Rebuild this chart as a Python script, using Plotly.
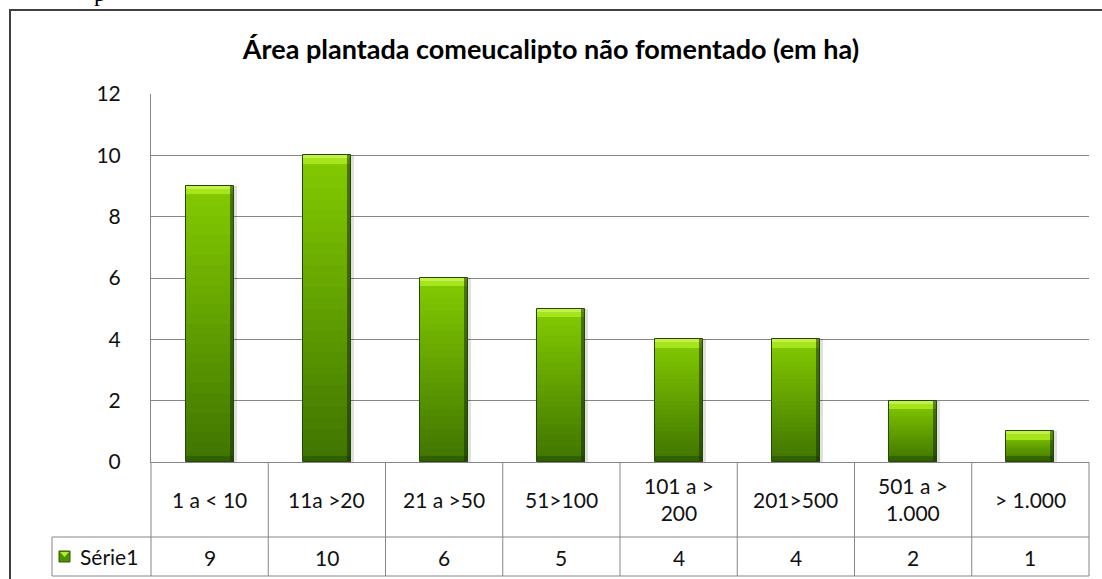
import plotly.graph_objects as go

# ---- data ----
categories = ["1 a < 10", "11a >20", "21 a >50", "51>100",
              "101 a ><br>200", "201>500", "501 a ><br>1.000", "> 1.000"]
values = [9, 10, 6, 5, 4, 4, 2, 1]
series_name = "Série1"
title_text = "Área plantada comeucalipto não fomentado (em ha)"
y_ticks = [0, 2, 4, 6, 8, 10, 12]

# ---- geometry of the figure (pixels) ----
W, H = 1102, 579
M_L, M_R, M_T, M_B = 151, 13, 94, 117
PLOT_W = W - M_L - M_R
PLOT_H = H - M_T - M_B

FONT = "Lato, 'Open Sans', sans-serif"
TXT = 21
GRID = "#868686"
BAR_W = 0.41


def px_x(px):
    """pixel column -> paper x"""
    return (px - M_L) / PLOT_W


def px_y(py):
    """pixel row -> paper y"""
    return (H - M_B - py) / PLOT_H


def lerp_color(c0, c1, t):
    a = [int(c0[i:i + 2], 16) for i in (1, 3, 5)]
    b = [int(c1[i:i + 2], 16) for i in (1, 3, 5)]
    return "rgb({},{},{})".format(*[round(a[k] + (b[k] - a[k]) * t) for k in range(3)])


fig = go.Figure()

# vertical gradient of each bar, built from stacked slices of its own value
N = 28
bottom_col, top_col = "#3f7400", "#84cc00"
for k in range(N):
    fig.add_trace(go.Bar(
        x=categories,
        base=[v * k / N for v in values],
        y=[v / N for v in values],
        width=BAR_W,
        marker=dict(color=lerp_color(bottom_col, top_col, (k + 0.5) / N), line=dict(width=0)),
        hoverinfo="skip", showlegend=False,
    ))

# bevelled top cap
cap = 0.27
fig.add_trace(go.Bar(
    x=categories, base=[v - cap for v in values], y=[cap] * len(values),
    width=BAR_W, marker=dict(color="#a6e41c", line=dict(width=0)),
    hoverinfo="skip", showlegend=False,
))
fig.add_trace(go.Bar(
    x=categories, base=[v - cap * 0.35 for v in values], y=[cap * 0.35] * len(values),
    width=BAR_W, marker=dict(color="#c4f04a", line=dict(width=0)),
    hoverinfo="skip", showlegend=False,
))
# darker bottom bevel
fig.add_trace(go.Bar(
    x=categories, base=[0] * len(values), y=[0.2] * len(values),
    width=BAR_W, marker=dict(color="rgba(30,70,0,0.45)", line=dict(width=0)),
    hoverinfo="skip", showlegend=False,
))
# dark right edge band
fig.add_trace(go.Bar(
    x=categories, y=values, width=0.035, offset=BAR_W / 2 - 0.035,
    marker=dict(color="rgba(20,50,0,0.55)", line=dict(width=0)),
    hoverinfo="skip", showlegend=False,
))
# soft shadow to the right of each bar
fig.add_trace(go.Bar(
    x=categories, y=values, width=0.025, offset=BAR_W / 2,
    marker=dict(color="rgba(0,0,0,0.12)", line=dict(width=0)),
    hoverinfo="skip", showlegend=False,
))
# outline
fig.add_trace(go.Bar(
    x=categories, y=values, width=BAR_W,
    marker=dict(color="rgba(0,0,0,0)", line=dict(color="#24480a", width=1)),
    hoverinfo="skip", showlegend=False, name=series_name,
))

shapes = []
annotations = []

# outer chart frame
shapes.append(dict(type="rect", xref="paper", yref="paper",
                   x0=px_x(10), x1=px_x(1140), y0=px_y(620), y1=px_y(10),
                   line=dict(color="#404040", width=2), fillcolor="rgba(0,0,0,0)", layer="above"))

# data table under the axis
row_mid, row_bot = 537, 576
n = len(categories)
for i in range(n + 1):
    shapes.append(dict(type="line", xref="paper", yref="paper",
                       x0=i / n, x1=i / n, y0=0, y1=px_y(row_bot),
                       line=dict(color=GRID, width=1)))
for py in (row_mid, row_bot):
    shapes.append(dict(type="line", xref="paper", yref="paper",
                       x0=px_x(52), x1=1, y0=px_y(py), y1=px_y(py),
                       line=dict(color=GRID, width=1)))
shapes.append(dict(type="line", xref="paper", yref="paper",
                   x0=px_x(52), x1=px_x(52), y0=px_y(row_mid), y1=px_y(row_bot),
                   line=dict(color=GRID, width=1)))

# legend key in the table
shapes.append(dict(type="rect", xref="paper", yref="paper",
                   x0=px_x(59), x1=px_x(70), y0=px_y(562), y1=px_y(551),
                   line=dict(color="#2d5a00", width=1), fillcolor="#4f9000"))
shapes.append(dict(type="path", xref="paper", yref="paper",
                   path="M {} {} L {} {} L {} {} Z".format(px_x(60), px_y(552), px_x(69), px_y(552),
                                                            px_x(64.5), px_y(557)),
                   line=dict(width=0), fillcolor="#b6ea30"))
annotations.append(dict(text=series_name, xref="paper", yref="paper",
                        x=px_x(78), y=px_y(556), xanchor="left", yanchor="middle",
                        showarrow=False, font=dict(family=FONT, size=TXT, color="#111")))

for cat, v in zip(categories, values):
    annotations.append(dict(text=cat, xref="x", yref="paper", x=cat, y=px_y(499),
                            xanchor="center", yanchor="middle", showarrow=False,
                            font=dict(family=FONT, size=TXT, color="#111")))
    annotations.append(dict(text=str(v), xref="x", yref="paper", x=cat, y=px_y(557),
                            xanchor="center", yanchor="middle", showarrow=False,
                            font=dict(family=FONT, size=TXT, color="#111")))

# stray glyph from the surrounding page text
annotations.append(dict(text="p", xref="paper", yref="paper", x=px_x(100), y=px_y(-7),
                        xanchor="center", yanchor="middle", showarrow=False,
                        font=dict(family="Liberation Serif", size=24, color="#000")))

fig.update_layout(
    width=W, height=H,
    margin=dict(l=M_L, r=M_R, t=M_T, b=M_B),
    paper_bgcolor="white", plot_bgcolor="white",
    barmode="overlay", bargap=0,
    showlegend=False,
    title=dict(text="<b>" + title_text + "</b>", x=0.5, xanchor="center",
               y=1 - 50 / H, yanchor="middle",
               font=dict(family=FONT, size=27, color="#000")),
    xaxis=dict(showticklabels=False, ticks="", showgrid=False, zeroline=False,
               showline=True, linecolor=GRID, linewidth=1,
               range=[-0.5, n - 0.5], fixedrange=True),
    yaxis=dict(range=[0, 12], tickvals=y_ticks, ticks="", showgrid=True,
               gridcolor=GRID, gridwidth=1, zeroline=False,
               showline=True, linecolor=GRID, linewidth=1,
               ticklabelstandoff=25,
               tickfont=dict(family=FONT, size=TXT, color="#111"), fixedrange=True),
    shapes=shapes,
    annotations=annotations,
)

fig.write_html("out.html")
